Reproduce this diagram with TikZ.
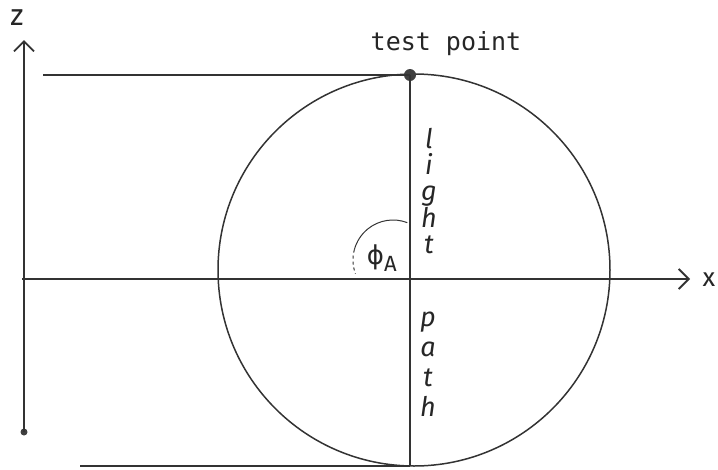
\documentclass[tikz,border=0pt]{standalone}
\usepackage{fontspec}
\newfontfamily\handfont{Fira Sans}
\newfontfamily\handmono{DejaVu Sans Mono}
\newfontfamily\greekfont{DejaVu Sans}
\usetikzlibrary{arrows.meta,positioning,calc}

\begin{document}
\begin{tikzpicture}[x=1pt,y=-1pt,
		every node/.style={font=\handfont\fontsize{26}{28}\selectfont,text=black!85},
		stroke/.style={line width=1.7pt,draw=black!80},
		axis/.style={stroke,-{Straight Barb[length=10pt,width=20pt,line width=1.8pt]}},
		letters/.style={font=\handfont\itshape\fontsize{27}{26}\selectfont,align=center,inner sep=0pt},
		dot/.style={circle,fill=black!75,inner sep=0pt,minimum size=#1}]

	\useasboundingbox (0,0) rectangle (718,469);

	% circle and axes
	\coordinate (O) at (414,270);
	\draw[stroke,line width=1.5pt] (O) circle[radius=196];

	\coordinate (xs) at (22,279);
	\coordinate (xe) at (690,279);
	\draw[axis] (xs) -- (xe);
	\node (xl) at (709,280) {x};

	\node[dot=7pt] (zs) at (24,432) {};
	\coordinate (ze) at (24,40);
	\draw[axis] (zs.center) -- (ze);
	\node[font=\handfont\fontsize{30}{30}\selectfont] (zl) at (17,18) {z};

	% test point and path
	\node[dot=12pt] (tp) at (410,75) {};
	\coordinate (bt) at (410,466);
	\coordinate (tl) at (43,75);
	\coordinate (bl) at (80,466);
	\draw[stroke] (tl) -- (tp.center);
	\draw[stroke] (bl) -- (bt);
	\draw[stroke] (tp.center) -- (bt);
	\node[font=\handmono\fontsize{25}{27}\selectfont] (tpl) at (446,44) {test point};

	\node[letters] (light) at (429,191) {l\\i\\g\\h\\t};
	\node[letters] (path) at (428,364) {p\\[4pt]a\\[4pt]t\\[4pt]h};

	% angle
	\coordinate (phc) at (393,260);
	\draw[line width=1pt,black!80] ([shift={(-69:40)}]phc) arc[start angle=-69,end angle=-165,radius=40];
	\draw[line width=1pt,black!80,dashed] ([shift={(-165:40)}]phc) arc[start angle=-165,end angle=-200,radius=40];
	\node (phi) at (382,258) {{\greekfont ϕ}\textsubscript{\fontsize{22}{24}\selectfont A}};
\end{tikzpicture}
\end{document}
